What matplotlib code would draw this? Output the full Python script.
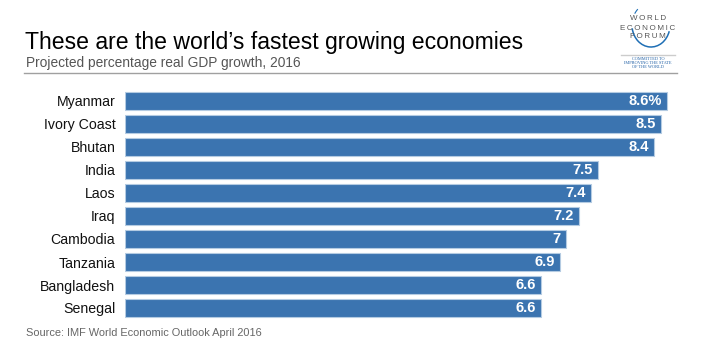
import numpy as np
import matplotlib.pyplot as plt
from matplotlib.patches import Arc
from matplotlib.lines import Line2D

countries = ['Myanmar', 'Ivory Coast', 'Bhutan', 'India', 'Laos', 'Iraq',
             'Cambodia', 'Tanzania', 'Bangladesh', 'Senegal']
growth = [8.6, 8.5, 8.4, 7.5, 7.4, 7.2, 7.0, 6.9, 6.6, 6.6]
value_labels = ['8.6%', '8.5', '8.4', '7.5', '7.4', '7.2', '7', '6.9', '6.6', '6.6']

plt.rcParams['font.family'] = ['Liberation Sans', 'DejaVu Sans']

W, H = 708, 345
fig = plt.figure(figsize=(W / 100, H / 100), dpi=100)
fig.patch.set_facecolor('white')

ax = fig.add_axes([125 / W, 1 - 319.5 / H, 567 / W, 230 / H])
y = np.arange(len(countries))
ax.barh(y, growth, height=0.74, color='#3b74b0', edgecolor='#b4cbe2', linewidth=0.8)
ax.set_xlim(0, 9)
ax.set_ylim(len(countries) - 0.5, -0.5)
ax.set_yticks(y)
ax.set_yticklabels(countries, fontsize=10.2, color='#111111')
ax.tick_params(axis='y', length=0, pad=7)
ax.set_xticks([])
for s in ax.spines.values():
    s.set_visible(False)

for yi, v, lab in zip(y, growth, value_labels):
    ax.text(v - 0.08, yi, lab, ha='right', va='center', color='white',
            fontsize=10.5, fontweight='bold')

# header
fig.text(25 / W, 1 - 49 / H, 'These are the world\u2019s fastest growing economies',
         fontsize=16.6, color='black', ha='left', va='baseline')
fig.text(26 / W, 1 - 67 / H, 'Projected percentage real GDP growth, 2016',
         fontsize=9.9, color='#555555', ha='left', va='baseline')
fig.add_artist(Line2D([24 / W, 677 / W], [1 - 73 / H, 1 - 73 / H],
                      color='#a0a0a0', linewidth=1))

# source line
fig.text(26 / W, 1 - 336 / H, 'Source: IMF World Economic Outlook April 2016',
         fontsize=7.9, color='#666666', ha='left', va='baseline')

# logo block
for txt, yy in [('WORLD', 19), ('ECONOMIC', 28), ('FORUM', 37)]:
    fig.text(648 / W, 1 - yy / H, '\u2009'.join(txt), fontsize=5.8, color='#555555',
             ha='center', va='center')
arc = Arc((651 / W, 1 - 25 / H), 38 / W, 44 / H, theta1=200, theta2=325,
          color='#1f6fb5', linewidth=1.1, transform=fig.transFigure)
fig.add_artist(arc)
arc_top = Arc((651 / W, 1 - 25 / H), 38 / W, 44 / H, theta1=112, theta2=125,
              color='#1f6fb5', linewidth=0.8, transform=fig.transFigure)
fig.add_artist(arc_top)
fig.add_artist(Line2D([621 / W, 675 / W], [1 - 55 / H, 1 - 55 / H],
                      color='#cccccc', linewidth=1))
for txt, yy in [('COMMITTED TO', 59), ('IMPROVING THE STATE', 63), ('OF THE WORLD', 67)]:
    fig.text(648 / W, 1 - yy / H, txt, fontsize=3.2, color='#1f5fa5',
             family='Liberation Serif', ha='center', va='center')

fig.savefig('out.png', dpi=100)
